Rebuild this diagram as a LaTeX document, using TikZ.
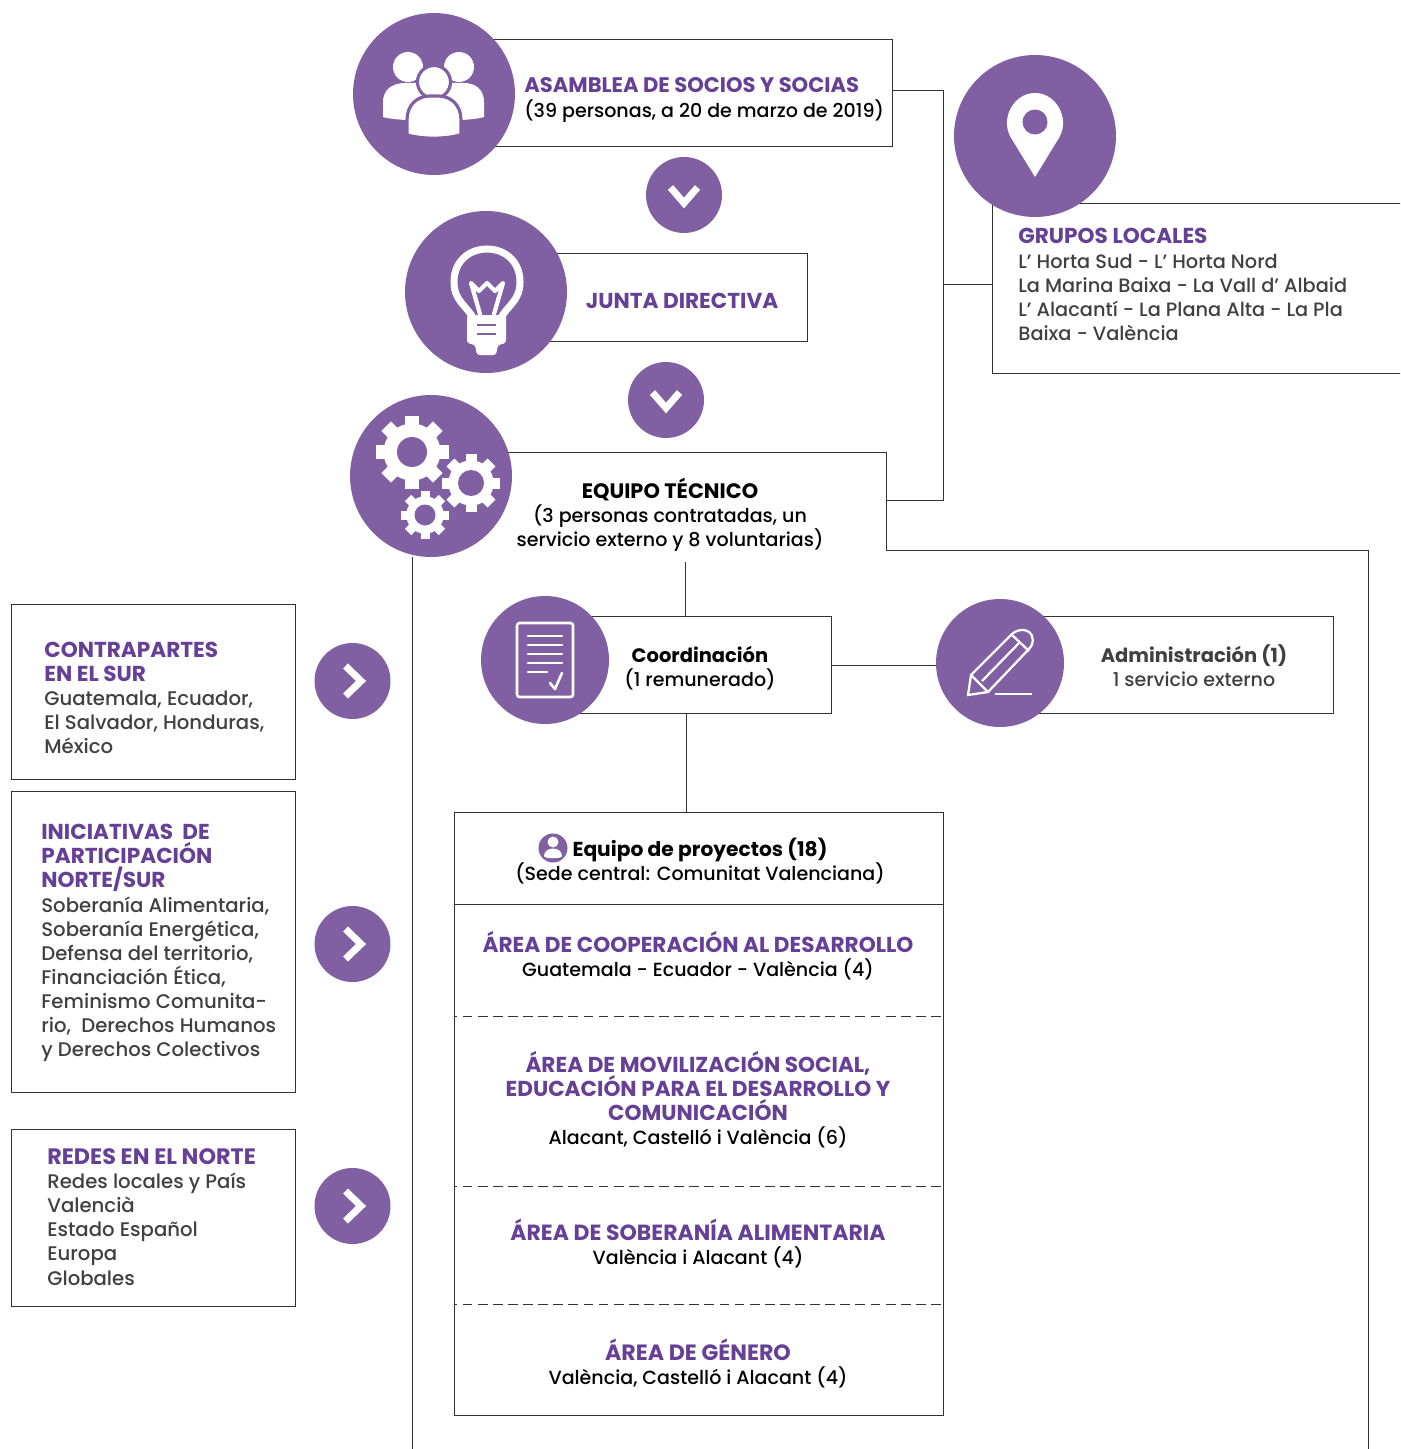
\documentclass[tikz,border=0pt]{standalone}
\usepackage{fontspec}
\setmainfont{Poppins Medium}[BoldFont={Poppins Bold}]
\definecolor{morado}{HTML}{805FA3}
\definecolor{titulo}{HTML}{663F96}
\definecolor{linea}{HTML}{333333}
\definecolor{gris}{HTML}{404040}
\newcommand{\fuerte}[2][11.1]{{\fontsize{#1}{13.7}\selectfont\bfseries#2}}
\newcommand{\tit}[2][12.3]{{\fontsize{#1}{13.7}\selectfont\bfseries\color{titulo}#2}}
\newcommand{\engrane}[5]{
	\foreach \a in {0,45,...,315}{\draw[white, line width=#5] (#1,#2) ++(\a:#3*0.6) -- ++(\a:#3*0.4);}
	\fill[white] (#1,#2) circle (#3*0.78);
	\fill[morado] (#1,#2) circle (#4);
}
\tikzset{
	caja/.style={draw=linea, line width=0.5pt, inner sep=0, outer sep=0},
	conector/.style={draw=linea, line width=0.5pt},
	disco/.style={circle, fill=morado, inner sep=0, outer sep=0, minimum size=3.24cm},
	disquito/.style={circle, fill=morado, inner sep=0, outer sep=0, minimum size=2.56cm},
	pastilla/.style={circle, fill=morado, inner sep=0, outer sep=0, minimum size=1.52cm},
	chevron/.style={draw=white, line width=4pt, line join=miter},
	texto/.style={inner sep=0, font=\fontsize{10.85}{13.7}\selectfont},
	lateral/.style={inner sep=0, font=\fontsize{11.2}{13.7}\selectfont, align=left, anchor=west, text=gris},
	cen/.style={texto, align=center, text=black}
}
\begin{document}
\begin{tikzpicture}[x=0.02cm,y=-0.02cm]
	\useasboundingbox (0,0) rectangle (1400,1449);
	\clip (0,0) rectangle (1400,1449);

	\node[caja, minimum width=9.18cm, minimum height=2.14cm] (cajaAsamblea) at (663,93) {};
	\node[caja, minimum width=6.44cm, minimum height=1.76cm] (cajaJunta) at (646.5,297) {};
	\node[caja, minimum width=8.56cm, minimum height=3.4cm] (cajaGrupos) at (1206,288) {};
	\node[caja, minimum width=5.74cm, minimum height=1.94cm] (cajaCoord) at (688,664.5) {};
	\node[caja, minimum width=6.68cm, minimum height=1.94cm] (cajaAdmin) at (1166.5,664.5) {};
	\node[caja, minimum width=9.78cm, minimum height=12.06cm] (cajaProyectos) at (699,1113.5) {};
	\node[caja, minimum width=5.68cm, minimum height=3.5cm] (cajaSur) at (153,691.5) {};
	\node[caja, minimum width=5.68cm, minimum height=6.02cm] (cajaIniciativas) at (153,941.5) {};
	\node[caja, minimum width=5.68cm, minimum height=3.54cm] (cajaRedes) at (153,1217.5) {};

	\coordinate (marcoA) at (500,452);
	\coordinate (marcoB) at (886,452);
	\coordinate (marcoC) at (886,550);
	\coordinate (marcoD) at (1368,550);
	\coordinate (marcoE) at (1368,1449);
	\coordinate (marcoF) at (412,557);
	\coordinate (marcoG) at (412,1449);
	\coordinate (troncoA) at (943,90);
	\coordinate (troncoB) at (943,284);
	\coordinate (troncoC) at (943,500);
	\coordinate (salida) at (685,562);

	\draw[conector] (marcoA) -- (marcoB) -- (marcoC) -- (marcoD) -- (marcoE);
	\draw[conector] (marcoF) -- (marcoG);
	\draw[conector] (cajaAsamblea.east |- troncoA) -- (troncoA) -- (troncoC) -- (marcoB |- troncoC);
	\draw[conector] (troncoB) -- (cajaGrupos.west |- troncoB);
	\draw[conector] (salida) -- (cajaCoord.north -| salida);
	\draw[conector] (cajaCoord.south -| 686.5,0) -- (cajaProyectos.north -| 686.5,0);
	\draw[conector] (cajaCoord.east |- 0,665) -- (cajaAdmin.west |- 0,665);
	\draw[conector] (cajaProyectos.west |- 0,904.5) -- (cajaProyectos.east |- 0,904.5);
	\foreach \y in {1016,1186,1304}{\draw[conector, dash pattern=on 5.6pt off 3pt, dash phase=4pt] (cajaProyectos.west |- 0,\y) -- (cajaProyectos.east |- 0,\y);}

	\node[disco] (asamblea) at (434,94) {};
	\node[disco] (junta) at (486,292) {};
	\node[disco] (tecnico) at (431,476) {};
	\node[disco] (grupos) at (1035,136) {};
	\node[disquito] (coord) at (545,660) {};
	\node[disquito] (admin) at (1000,663) {};

	\foreach \n/\x/\y in {bajaA/684/195,bajaB/666/400}{
		\node[pastilla] (\n) at (\x,\y) {};
		\draw[chevron] ([shift={(-13.5,-7.5)}]\n.center) -- ([shift={(0,8)}]\n.center) -- ([shift={(13.5,-7.5)}]\n.center);
	}
	\foreach \n/\y in {vaA/681,vaB/944,vaC/1206}{
		\node[pastilla] (\n) at (352.5,\y) {};
		\draw[chevron] ([shift={(-7,-15)}]\n.center) -- ([shift={(8.5,0)}]\n.center) -- ([shift={(-7,15)}]\n.center);
	}

	\fill[white] (408,67) circle (15);
	\fill[white] (459,67) circle (15);
	\fill[white] (383,117) -- (383,102) .. controls (383,90) and (392,83) .. (405,83) -- (464,83) .. controls (476,83) and (484,90) .. (484,102) -- (484,117) .. controls (470,122) and (398,122) .. (383,117) -- cycle;
	\fill[white, draw=morado, line width=1.8pt] (434,82) circle (16.5);
	\fill[white, draw=morado, line width=1.8pt] (407,140) -- (407,120) .. controls (407,105) and (417,96) .. (430,96) -- (438,96) .. controls (451,96) and (461,105) .. (461,120) -- (461,140) -- cycle;
	\fill[morado] (380,122) .. controls (398,122.5) and (410,122) .. (407,122) -- (407,145) -- (380,145) -- cycle;
	\fill[morado] (488,122) -- (461,122) -- (461,145) -- (488,145) -- cycle;
	\fill[morado] (405,132.5) .. controls (420,138) and (448,138) .. (462,132.5) -- (462,145) -- (405,145) -- cycle;

	\draw[white, line width=4pt] (474,320) .. controls (468,306) and (454,302) .. (454,282) .. controls (454,238) and (520,238) .. (520,282) .. controls (520,302) and (506,306) .. (500,320);
	\fill[white, rounded corners=1.5pt] (467,315) -- (506,315) -- (506,343) -- (498,345) -- (496,355) -- (477,355) -- (475,345) -- (467,343) -- cycle;
	\draw[morado, line width=1.5pt] (477,325) -- (496,325) (477,334) -- (496,334);
	\draw[white, line width=2.4pt, line join=round, line cap=round] (480,314) -- (471,283) -- (479,291) -- (487,283) -- (495,291) -- (503,283) -- (494,314);

	\engrane{412}{452}{36.5}{15}{0.27cm}
	\engrane{471}{483}{29}{13}{0.22cm}
	\engrane{425}{515}{24}{10.5}{0.18cm}

	\fill[white] (1035,177) -- (1010.5,137) .. controls (1000,118) and (1014,93) .. (1035,93) .. controls (1056,93) and (1070,118) .. (1059.5,137) -- cycle;
	\fill[morado] (1035,122) circle (12.5);

	\draw[white, line width=1.5pt, rounded corners=1.5pt] (517,623) rectangle (573,697);
	\foreach \y in {636,645,654,663}{\draw[white, line width=1.5pt, line cap=round] (528,\y) -- (562,\y);}
	\draw[white, line width=1.5pt, line cap=round] (528,672) -- (547,672);
	\draw[white, line width=1.5pt, line cap=round, line join=round] (550,683) -- (555,689) -- (562,673);

	\draw[white, line width=1.3pt, line join=miter] (968,695) -- (971,675) -- (1012,634) .. controls (1020,627) and (1030,630) .. (1032,636) .. controls (1034,642) and (1032,646) .. (1028,650) -- (988,692) -- cycle;
	\draw[white, line width=1.3pt] (971,675) -- (988,692) (982,681) -- (1020,642) (1012,635) -- (1029,651);
	\draw[white, line width=1.7pt] (995,694) -- (1032,694);

	\fill[morado] (553,848) circle (14.5);
	\fill[white] (553,842) circle (5.5);
	\fill[white] (544,856) .. controls (544,846) and (562,846) .. (562,856) .. controls (562,859) and (544,859) .. (544,856) -- cycle;

	\node[texto, align=left, anchor=west, text=black] (tAsamblea) at (524,100) {\tit[12]{ASAMBLEA DE SOCIOS Y SOCIAS}\\(39 personas, a 20 de marzo de 2019)};
	\node[cen] (tJunta) at (682,301) {\tit{JUNTA DIRECTIVA}};
	\node[lateral, font=\fontsize{11}{13.7}\selectfont] (tGrupos) at (1018,284.5) {\tit{GRUPOS LOCALES}\\L’ Horta Sud - L’ Horta Nord\\La Marina Baixa - La Vall d’ Albaid\\L’ Alacantí - La Plana Alta - La Pla\\Baixa - València};
	\node[cen] (tTecnico) at (670,515) {\fuerte[11.9]{EQUIPO TÉCNICO}\\(3 personas contratadas, un\\servicio externo y 8 voluntarias)};
	\node[cen] (tCoord) at (700,668) {\fuerte{Coordinación}\\(1 remunerado)};
	\node[cen, text=gris] (tAdmin) at (1194,666) {\fuerte{Administración (1)}\\1 servicio externo};
	\node[lateral] (tSur) at (44,698) {\tit{CONTRAPARTES}\\\tit{EN EL SUR}\\Guatemala, Ecuador,\\El Salvador, Honduras,\\México};
	\node[lateral] (tIniciativas) at (41,943) {\tit{INICIATIVAS\ \ DE}\\\tit{PARTICIPACIÓN}\\\tit{NORTE/SUR}\\Soberanía Alimentaria,\\Soberanía Energética,\\Defensa del territorio,\\Financiación Ética,\\Feminismo Comunita-\\rio,\ \ Derechos Humanos\\y Derechos Colectivos};
	\node[lateral] (tRedes) at (47,1217) {\tit[12.7]{REDES EN EL NORTE}\\Redes locales y País\\Valencià\\Estado Español\\Europa\\Globales};
	\node[cen] (tProyectos) at (700,861) {\fuerte[11.5]{Equipo de proyectos (18)}\\(Sede central: Comunitat Valenciana)};
	\node[cen] (tCooperacion) at (698,955.5) {\tit{ÁREA DE COOPERACIÓN AL DESARROLLO}\\Guatemala - Ecuador - València (4)};
	\node[cen] (tMovilizacion) at (698,1099.5) {\tit{ÁREA DE MOVILIZACIÓN SOCIAL,}\\\tit{EDUCACIÓN PARA EL DESARROLLO Y}\\\tit{COMUNICACIÓN}\\Alacant, Castelló i València (6)};
	\node[cen] (tSoberania) at (698,1243.5) {\tit[12.5]{ÁREA DE SOBERANÍA ALIMENTARIA}\\València i Alacant (4)};
	\node[cen] (tGenero) at (698,1363.5) {\tit[12.6]{ÁREA DE GÉNERO}\\València, Castelló i Alacant (4)};
\end{tikzpicture}
\end{document}
